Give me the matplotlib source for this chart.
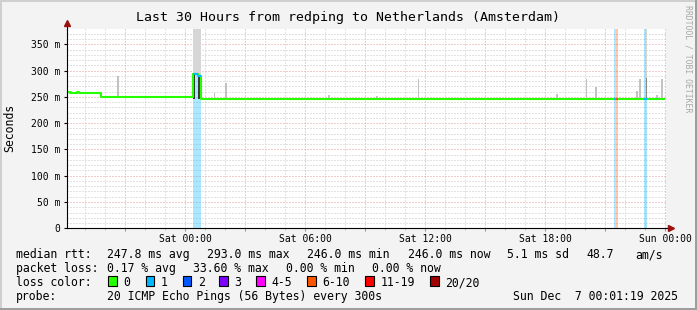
import matplotlib.pyplot as plt
from matplotlib.patches import Rectangle
from matplotlib.lines import Line2D
from matplotlib.ticker import MultipleLocator, FuncFormatter

W, H = 697, 310
MONO = 'DejaVu Sans Mono'

# time axis in hours relative to Sat 00:00
seg_start = [-5.9, -5.75, -5.4, -5.3, -4.2, 0.40, 0.65, 0.80, 21.47, 21.57, 21.67, 22.95, 23.12]
seg_median = [258.5, 257, 258.5, 257, 250.5, 293, 290, 246, 246, 246, 246, 246, 246]
seg_loss = [0, 0, 0, 0, 0, 1, 1, 0, 1, 6, 0, 1, 0]
t_end = 23.95

# smoke spikes (single 5 min steps)
smoke_hour = [-5.67, -3.35, 1.48, 2.05, 7.2, 9.6, 11.68, 18.6, 20.08, 20.55, 22.6, 22.75, 23.6, 23.85]
smoke_low = [257, 250.5, 246, 246, 246, 246, 246, 246, 246, 246, 246, 246, 246, 246]
smoke_top = [262, 290, 258, 277, 253, 252, 283, 256, 284, 269, 261, 284, 253, 284]

# wide smoke during the loss events
burst_t0 = [0.40, 0.40, 0.65, 23.03, 23.03]
burst_t1 = [0.80, 0.50, 0.80, 23.12, 23.12]
burst_lo = [293, 246, 246, 286, 246]
burst_hi = [380, 293, 290, 380, 286]
burst_shade = ['#d6d6d6', '#333333', '#3a3a3a', '#d6d6d6', '#8a8a8a']

xtick_hours = [0, 6, 12, 18, 24]
xtick_labels = ['Sat 00:00', 'Sat 06:00', 'Sat 12:00', 'Sat 18:00', 'Sun 00:00']

loss_names = ['0', '1', '2', '3', '4-5', '6-10', '11-19', '20/20']
loss_colors = ['#26ff00', '#00b8ff', '#0059ff', '#7e00ff', '#ff00ff', '#ff5500', '#ff0000', '#a00000']
loss_max = [0, 1, 2, 3, 5, 10, 19, 20]


def loss_color(n):
    for lim, c in zip(loss_max, loss_colors):
        if n <= lim:
            return c
    return loss_colors[-1]


def fx(x):
    return x / W


def fy(y):
    return 1 - y / H


fig = plt.figure(figsize=(W / 100, H / 100), dpi=100, facecolor='#f3f3f3')
ax = fig.add_axes([fx(67), fy(228.3), (666 - 67) / W, (228.3 - 29) / H], facecolor='white')

ax.set_xlim(-5.9, 24.05)
ax.set_ylim(0, 379)

# loss bands
seg_end = seg_start[1:] + [t_end]
for s, e, n in zip(seg_start, seg_end, seg_loss):
    if n > 0:
        ax.axvspan(s, e, color=loss_color(n), alpha=0.33, lw=0, zorder=1)

# smoke
ax.bar(smoke_hour, [t - l for t, l in zip(smoke_top, smoke_low)], bottom=smoke_low,
       width=1 / 12, color='#c2c2c2', lw=0, zorder=2)
for t0, t1, lo, hi, c in zip(burst_t0, burst_t1, burst_lo, burst_hi, burst_shade):
    ax.bar(t0, hi - lo, bottom=lo, width=t1 - t0, align='edge', color=c, lw=0, zorder=2)

# median line
ax.step(seg_start + [t_end], seg_median + [seg_median[-1]], where='post',
        color=loss_colors[0], lw=1.5, zorder=3)
for s, e, m, n in zip(seg_start, seg_end, seg_median, seg_loss):
    if n > 0:
        ax.plot([s, e], [m, m], color=loss_color(n), lw=1.5, zorder=4, solid_capstyle='butt')

# grid / ticks
ax.xaxis.set_major_locator(MultipleLocator(3))
ax.xaxis.set_minor_locator(MultipleLocator(1))
ax.yaxis.set_major_locator(MultipleLocator(50))
ax.yaxis.set_minor_locator(MultipleLocator(10))
labels = dict(zip(xtick_hours, xtick_labels))
ax.xaxis.set_major_formatter(FuncFormatter(lambda v, p: labels.get(int(round(v)), '')))
ax.yaxis.set_major_formatter(FuncFormatter(lambda v, p: '0' if v == 0 else f'{int(v)} m'))
ax.set_axisbelow(True)
ax.grid(which='major', color='#e49a9a', linestyle=(0, (1, 2)), lw=0.72)
ax.grid(which='minor', color='#c6c6c6', linestyle=(0, (1, 2)), lw=0.72)
ax.tick_params(which='both', direction='out', labelsize=7.05, labelfontfamily=MONO)
ax.tick_params(axis='x', which='major', length=2, color='#d08080', pad=2)
ax.tick_params(axis='x', which='minor', length=1.5, color='#b0b0b0')
ax.tick_params(axis='y', which='major', length=2, color='black', pad=3)
ax.tick_params(axis='y', which='minor', length=0)
for sp in ['top', 'right']:
    ax.spines[sp].set_visible(False)
for sp in ['left', 'bottom']:
    ax.spines[sp].set_color('black')
    ax.spines[sp].set_linewidth(0.8)
    ax.spines[sp].set_zorder(5)

# axis extensions and arrows
fig.add_artist(Line2D([fx(67), fx(67)], [fy(29), fy(24)], color='black', lw=0.8))
fig.add_artist(Line2D([fx(666), fx(670)], [fy(228.3), fy(228.3)], color='black', lw=0.8))
fig.add_artist(Line2D([fx(67)], [fy(23)], marker='^', color='#9a1010', markersize=4.5))
fig.add_artist(Line2D([fx(671)], [fy(228.3)], marker='>', color='#9a1010', markersize=4.5))

# texts
fig.text(0.5, fy(18), 'Last 30 Hours from redping to Netherlands (Amsterdam)',
         ha='center', va='center', fontsize=9.5, family=MONO)
fig.text(fx(10), fy(128), 'Seconds', rotation=90, ha='center', va='center',
         fontsize=8.3, family=MONO)
fig.text(fx(688), fy(59), 'RRDTOOL / TOBI OETIKER', rotation=270, ha='center', va='center',
         fontsize=5.9, family=MONO, color='#a8a8a8')

rows = [
    (258, [(16, 'median rtt:'), (107.3, '247.8 ms avg'), (207.3, '293.0 ms max'),
           (306.7, '246.0 ms min'), (407.7, '246.0 ms now'), (506.7, '5.1 ms sd'),
           (586, '48.7'), (635.3, 'am/s')]),
    (272, [(16, 'packet loss:'), (107.3, '0.17 % avg'), (193.3, '33.60 % max'),
           (286, '0.00 % min'), (372.3, '0.00 % now')]),
    (286, [(16, 'loss color:')]),
    (300, [(16, 'probe:'), (107.3, '20 ICMP Echo Pings (56 Bytes) every 300s'),
           (513.3, 'Sun Dec  7 00:01:19 2025')]),
]
for y, parts in rows:
    for x, s in parts:
        fig.text(fx(x), fy(y), s, ha='left', va='baseline', fontsize=8.3, family=MONO)

box_x = [108, 145.7, 182.7, 219.3, 256.3, 307, 365.3, 430.3]
for bx, name, c in zip(box_x, loss_names, loss_colors):
    fig.add_artist(Rectangle((fx(bx), fy(285.5)), 8.5 / W, 9.5 / H, facecolor=c,
                             edgecolor='black', lw=0.8))
    fig.text(fx(bx + 15), fy(286), name, ha='left', va='baseline', fontsize=8.3, family=MONO)

# 3d frame
fig.add_artist(Rectangle((0, fy(2)), 1, 2 / H, color='#cfcfcf', lw=0))
fig.add_artist(Rectangle((0, 0), 2 / W, 1, color='#cfcfcf', lw=0))
fig.add_artist(Rectangle((0, 0), 1, 2 / H, color='#9e9e9e', lw=0))
fig.add_artist(Rectangle((fx(695), 0), 2 / W, 1, color='#9e9e9e', lw=0))

fig.savefig('out.png', dpi=100, facecolor=fig.get_facecolor())
